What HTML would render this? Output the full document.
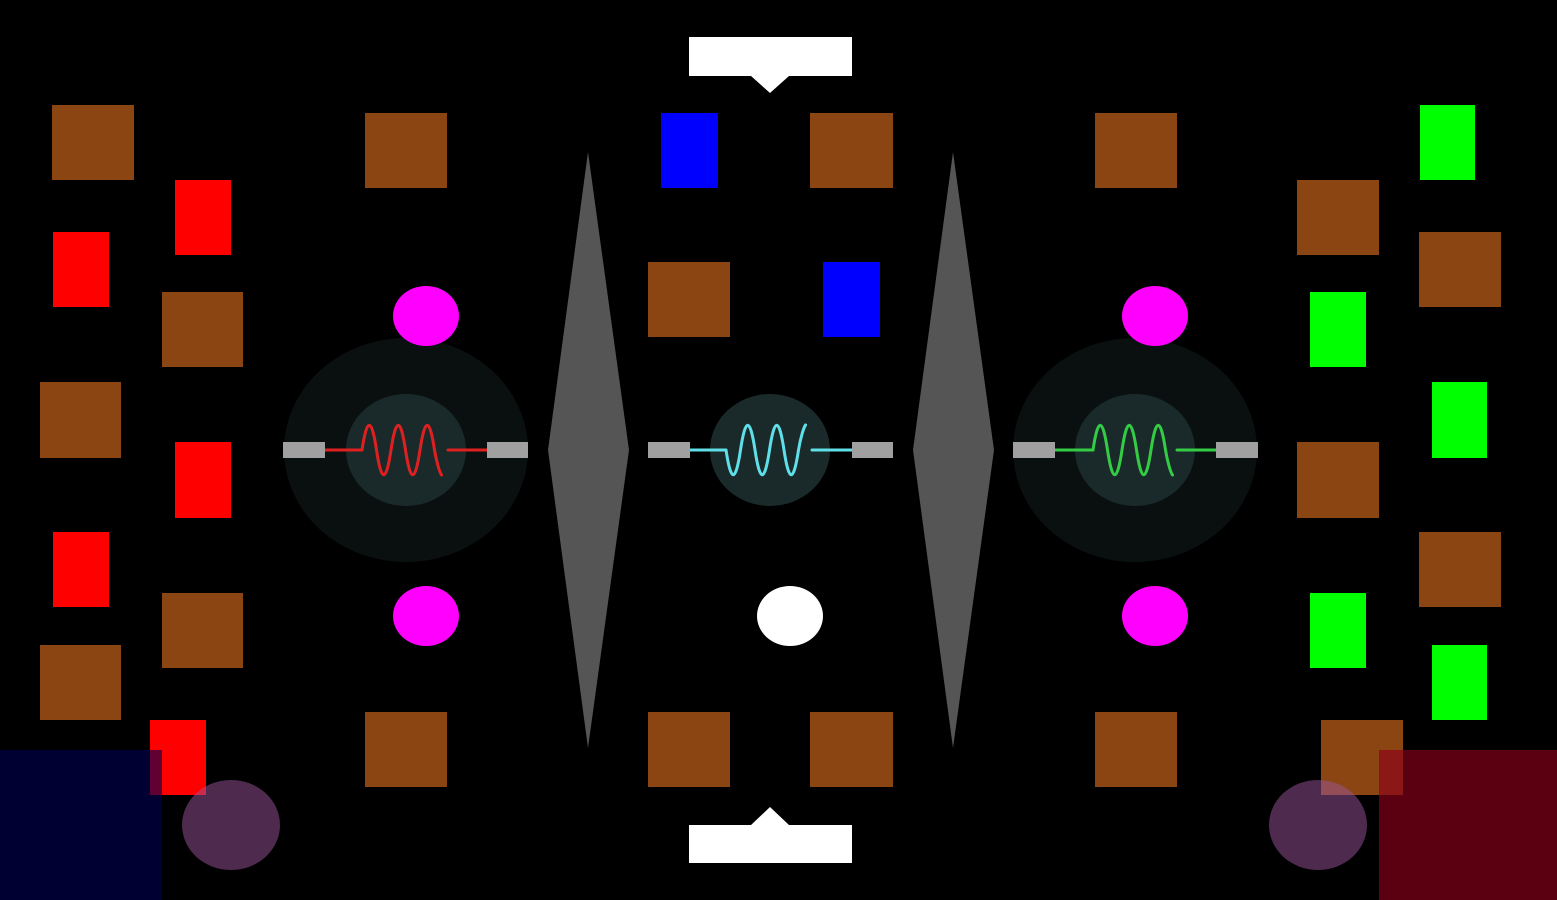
<!DOCTYPE html>
<html><head><meta charset="utf-8"><style>
html,body{margin:0;padding:0;background:#000;width:1557px;height:900px;overflow:hidden}
</style></head><body>
<svg width="1557" height="900" viewBox="0 0 1557 900" xmlns="http://www.w3.org/2000/svg">
<rect width="1557" height="900" fill="#000"/>
<g fill="#8B4513">
<rect x="52" y="105" width="82" height="75"/>
<rect x="162" y="292" width="81" height="75"/>
<rect x="40" y="382" width="81" height="76"/>
<rect x="162" y="593" width="81" height="75"/>
<rect x="40" y="645" width="81" height="75"/>
<rect x="365" y="113" width="82" height="75"/>
<rect x="365" y="712" width="82" height="75"/>
<rect x="810" y="113" width="83" height="75"/>
<rect x="648" y="262" width="82" height="75"/>
<rect x="648" y="712" width="82" height="75"/>
<rect x="810" y="712" width="83" height="75"/>
<rect x="1095" y="113" width="82" height="75"/>
<rect x="1095" y="712" width="82" height="75"/>
<rect x="1297" y="180" width="82" height="75"/>
<rect x="1419" y="232" width="82" height="75"/>
<rect x="1297" y="442" width="82" height="76"/>
<rect x="1419" y="532" width="82" height="75"/>
<rect x="1321" y="720" width="82" height="75"/>
</g>
<g fill="#ff0000">
<rect x="175" y="180" width="56" height="75"/>
<rect x="53" y="232" width="56" height="75"/>
<rect x="175" y="442" width="56" height="76"/>
<rect x="53" y="532" width="56" height="75"/>
<rect x="150" y="720" width="56" height="75"/>
</g>
<g fill="#00ff00">
<rect x="1420" y="105" width="55" height="75"/>
<rect x="1310" y="292" width="56" height="75"/>
<rect x="1432" y="382" width="55" height="76"/>
<rect x="1310" y="593" width="56" height="75"/>
<rect x="1432" y="645" width="55" height="75"/>
</g>
<g fill="#0000ff">
<rect x="661" y="113" width="57" height="75"/>
<rect x="823" y="262" width="57" height="75"/>
</g>
<!-- big dark circles -->
<ellipse cx="406" cy="450" rx="122" ry="112" fill="#0a1010"/>
<ellipse cx="1135" cy="450" rx="122" ry="112" fill="#0a1010"/>
<ellipse cx="406" cy="450" rx="60" ry="56" fill="#1a2a2a"/>
<ellipse cx="770" cy="450" rx="60" ry="56" fill="#1a2a2a"/>
<ellipse cx="1135" cy="450" rx="60" ry="56" fill="#1a2a2a"/>
<!-- magenta / white circles -->
<g fill="#ff00ff">
<ellipse cx="426" cy="316" rx="33" ry="30"/>
<ellipse cx="426" cy="616" rx="33" ry="30"/>
<ellipse cx="1155" cy="316" rx="33" ry="30"/>
<ellipse cx="1155" cy="616" rx="33" ry="30"/>
</g>
<ellipse cx="790" cy="616" rx="33" ry="30" fill="#fff"/>
<!-- diamonds -->
<polygon points="588,152 629,450 588,748 548,450" fill="#555"/>
<polygon points="953,152 994,450 953,748 913,450" fill="#555"/>
<!-- resistors -->
<g stroke-width="3" fill="none" stroke-linecap="round">
<g stroke="#e02020">
<line x1="325" y1="450" x2="362" y2="450"/><line x1="448" y1="450" x2="487" y2="450"/>
<path transform="translate(362,450)" d="M0,0 c5,-33 9.5,-33 14.5,0 c5,33 9.5,33 14.5,0 c5,-33 9.5,-33 14.5,0 c5,33 9.5,33 14.5,0 c5,-33 9.5,-33 14.5,0 c2,12 5,22 7,25"/>
</g>
<g stroke="#5fe0e8">
<line x1="690" y1="450" x2="726" y2="450"/><line x1="812" y1="450" x2="852" y2="450"/>
<path transform="translate(726,450)" d="M0,0 c5,33 9.5,33 14.5,0 c5,-33 9.5,-33 14.5,0 c5,33 9.5,33 14.5,0 c5,-33 9.5,-33 14.5,0 c5,33 9.5,33 14.5,0 c2,-12 5,-22 7,-25"/>
</g>
<g stroke="#33cc44">
<line x1="1055" y1="450" x2="1093" y2="450"/><line x1="1177" y1="450" x2="1216" y2="450"/>
<path transform="translate(1093,450)" d="M0,0 c5,-33 9.5,-33 14.5,0 c5,33 9.5,33 14.5,0 c5,-33 9.5,-33 14.5,0 c5,33 9.5,33 14.5,0 c5,-33 9.5,-33 14.5,0 c2,12 5,22 7,25"/>
</g>
</g>
<g fill="#a0a0a0">
<rect x="283" y="442" width="42" height="16"/><rect x="487" y="442" width="41" height="16"/>
<rect x="648" y="442" width="42" height="16"/><rect x="852" y="442" width="41" height="16"/>
<rect x="1013" y="442" width="42" height="16"/><rect x="1216" y="442" width="42" height="16"/>
</g>
<!-- bubbles -->
<polygon points="689,37 852,37 852,76 789,76 770,93 751,76 689,76" fill="#fff"/>
<polygon points="689,825 751,825 770,807 789,825 852,825 852,863 689,863" fill="#fff"/>
<!-- corner overlays -->
<rect x="0" y="750" width="162" height="150" fill="rgba(0,0,82,0.62)"/>
<rect x="1379" y="750" width="178" height="150" fill="rgba(140,0,25,0.65)"/>
<ellipse cx="231" cy="825" rx="49" ry="45" fill="rgba(155,85,155,0.5)"/>
<ellipse cx="1318" cy="825" rx="49" ry="45" fill="rgba(155,85,155,0.5)"/>
</svg>
</body></html>
